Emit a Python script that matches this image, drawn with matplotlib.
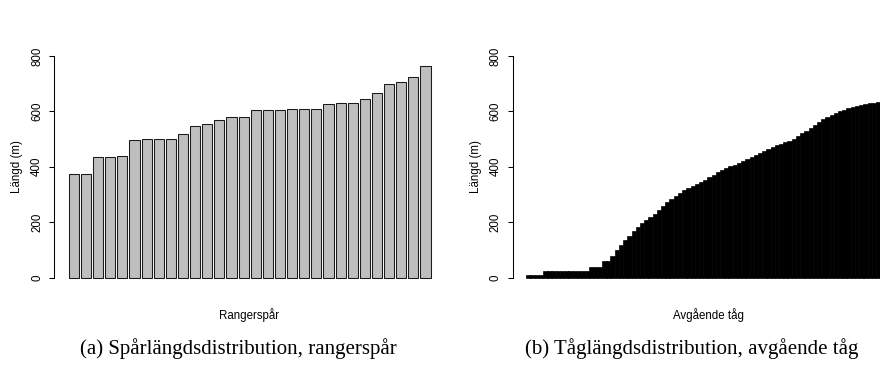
import numpy as np
import matplotlib
matplotlib.use("Agg")
import matplotlib.pyplot as plt

plt.rcParams['font.family'] = ['Liberation Sans', 'DejaVu Sans']

# (a) track lengths, sorting tracks (m)
track_lengths = [373, 375, 436, 437, 440, 495, 499, 499, 500, 520,
                 546, 554, 570, 579, 579, 604, 604, 604, 607, 608,
                 610, 625, 630, 630, 643, 666, 698, 705, 725, 762]

# (b) train lengths, departing trains (m), sorted
train_lengths = [6, 6, 6, 6,
                 20, 20, 20, 20, 20, 20, 20, 20, 20, 20, 20,
                 36, 36, 36,
                 56, 56,
                 75, 95, 115, 132, 148, 163, 180, 193, 205, 216,
                 226, 240, 255, 268, 281, 292, 302, 311, 320, 328,
                 334, 341, 350, 358, 367, 376, 384, 391, 398, 404,
                 411, 418, 425, 431, 439, 447, 455, 461, 468, 474,
                 479, 485, 491, 498, 507, 517, 527, 537, 548, 559,
                 568, 577, 585, 592, 598, 603, 608, 612, 616, 619,
                 622, 626, 628, 630, 632, 634]

y_ticks = [0, 200, 400, 600, 800]
y_label = "Längd (m)"
x_labels = ["Rangerspår", "Avgående tåg"]
captions = ["(a) Spårlängdsdistribution, rangerspår",
            "(b) Tåglängdsdistribution, avgående tåg"]

W, H = 880, 365
fig = plt.figure(figsize=(W / 100, H / 100), dpi=100)


def px(x0, y_top, w, h):
    # pixel box -> figure fraction [left, bottom, width, height]
    return [x0 / W, (H - y_top - h) / H, w / W, h / H]


def r_barplot(ax, values, face, edge, lw):
    n = len(values)
    left = 0.2 + 1.2 * np.arange(n)
    ax.bar(left, values, width=1.0, align='edge', color=face,
           edgecolor=edge, linewidth=lw)
    lo, hi = 0.2, 1.2 * n
    pad = 0.04 * (hi - lo)
    ax.set_xlim(lo - pad, hi + pad)
    ax.set_ylim(-32, 832)
    for s in ['top', 'right', 'bottom']:
        ax.spines[s].set_visible(False)
    ax.spines['left'].set_bounds(0, 800)
    ax.spines['left'].set_linewidth(0.75)
    ax.set_xticks([])
    ax.set_yticks(y_ticks)
    ax.set_yticklabels([str(t) for t in y_ticks], rotation=90, va='center')
    ax.tick_params(axis='y', length=3.6, width=0.75, pad=4.5, labelsize=8.3)


plot_h = 286.4 - 47.1
ax1 = fig.add_axes(px(54.3, 47.1, 390.7, plot_h))
r_barplot(ax1, track_lengths, '#bebebe', '#1a1a1a', 0.75)

ax2 = fig.add_axes(px(512.7, 47.1, 390.7, plot_h))
r_barplot(ax2, train_lengths, 'black', 'black', 1.2)

yc = 166.7
fig.text(17 / W, 1 - yc / H, y_label, rotation=90, ha='center', va='center', fontsize=8.3)
fig.text(476 / W, 1 - yc / H, y_label, rotation=90, ha='center', va='center', fontsize=8.3)
fig.text(249 / W, 1 - 315 / H, x_labels[0], ha='center', va='center', fontsize=8.3)
fig.text(708 / W, 1 - 315 / H, x_labels[1], ha='center', va='center', fontsize=8.3)

fig.text(238 / W, 1 - 349 / H, captions[0], ha='center', va='center',
         fontsize=15, family=['Liberation Serif', 'DejaVu Serif'])
fig.text(692 / W, 1 - 349 / H, captions[1], ha='center', va='center',
         fontsize=15, family=['Liberation Serif', 'DejaVu Serif'])

fig.savefig("out.png", dpi=100)
